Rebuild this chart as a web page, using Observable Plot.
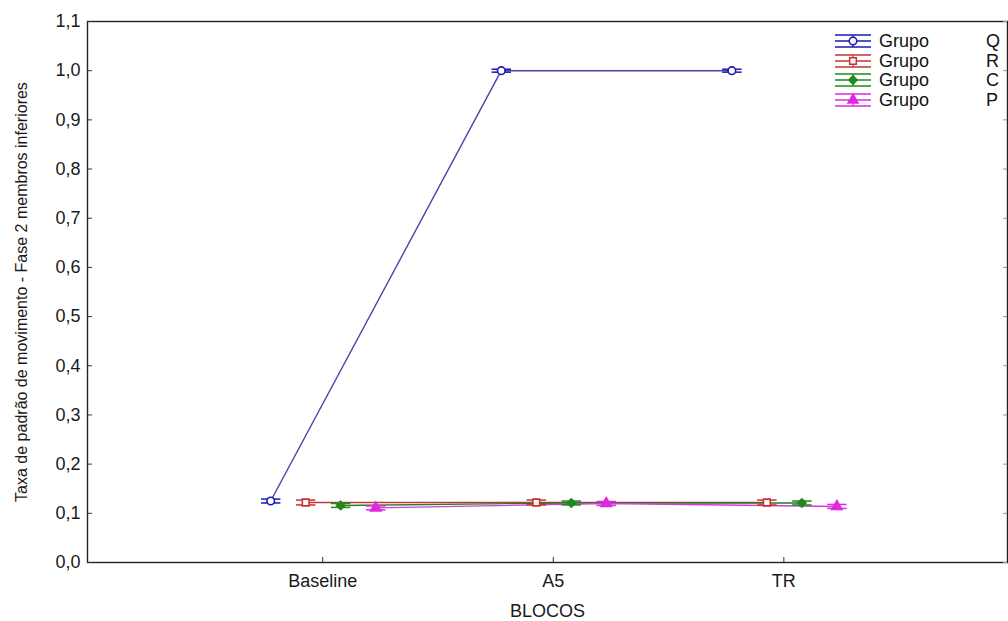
<!DOCTYPE html>
<html>
<head>
<meta charset="utf-8">
<script src="https://cdn.jsdelivr.net/npm/d3@7"></script>
<script src="https://cdn.jsdelivr.net/npm/@observablehq/plot@0.6"></script>
<style>
  html, body { margin: 0; padding: 0; background: #fff; }
  #wrap { position: relative; width: 1008px; height: 621px; font-family: "Liberation Sans", Arial, sans-serif; }
  #legend { position: absolute; left: 833px; top: 32px; font-size: 18px; color: #111; }
  .item { position: relative; height: 19.5px; line-height: 19px; }
  .item svg { position: absolute; left: 0; top: -1px; }
  .item .g { position: absolute; left: 46px; top: 0; }
  .item .l { position: absolute; left: 153px; top: 0; }
</style>
</head>
<body>
<div id="wrap"><div id="legend"></div></div>
<script>
// ---- data ----
const blocos = ["Baseline", "A5", "TR"];
const grupos = ["Q", "R", "C", "P"];
const valQ = [0.125, 1.0, 1.0];
const valR = [0.122, 0.122, 0.122];
const valC = [0.116, 0.121, 0.121];
const valP = [0.111, 0.12, 0.114];
const errQ = [0.004, 0.003, 0.003];
const errR = [0.005, 0.005, 0.005];
const errC = [0.004, 0.004, 0.004];
const errP = [0.004, 0.004, 0.004];
const yTicks = [0, 0.1, 0.2, 0.3, 0.4, 0.5, 0.6, 0.7, 0.8, 0.9, 1.0, 1.1];

const values = {Q: valQ, R: valR, C: valC, P: valP};
const errors = {Q: errQ, R: errR, C: errC, P: errP};
const colors = {Q: "#1a1ab4", R: "#c83232", C: "#1f8a1f", P: "#e028e0"};
const lineColors = {Q: "#4646a8", R: "#b83a3a", C: "#2a7a2a", P: "#d040d0"};
const symbols = {Q: "circle", R: "square", C: "diamond2", P: "triangle"};
const filled = {Q: false, R: false, C: true, P: true};
const offsets = {Q: -52, R: -17, C: 18, P: 53};

const W = 1008, H = 621;
const mL = 87, mR = 1, mT = 21, mB = 59;
const plotW = W - mL - mR, plotH = H - mT - mB;

// horizontal line symbol for error-bar caps
const hline = { draw(ctx, size) { const w = Math.sqrt(size) / 2; ctx.moveTo(-w, 0); ctx.lineTo(w, 0); } };

const rows = g => blocos.map((b, i) => ({
  grupo: g, bloco: b, x: i + 1, y: values[g][i],
  lo: values[g][i] - errors[g][i], hi: values[g][i] + errors[g][i]
}));

const marks = [];
for (const g of grupos) {
  const d = rows(g);
  marks.push(Plot.line(d, {x: "x", y: "y", stroke: lineColors[g], strokeWidth: 1.4, dx: offsets[g]}));
}
for (const g of grupos) {
  const d = rows(g);
  marks.push(Plot.ruleX(d, {x: "x", y1: "lo", y2: "hi", stroke: colors[g], strokeWidth: 1.3, dx: offsets[g]}));
  marks.push(Plot.dot(d, {x: "x", y: "lo", symbol: hline, r: 11, stroke: colors[g], strokeWidth: 1.5, dx: offsets[g]}));
  marks.push(Plot.dot(d, {x: "x", y: "hi", symbol: hline, r: 11, stroke: colors[g], strokeWidth: 1.5, dx: offsets[g]}));
  marks.push(Plot.dot(d, {x: "x", y: "y", symbol: symbols[g], r: 3.8,
    stroke: colors[g], fill: filled[g] ? colors[g] : "white", strokeWidth: 1.6, dx: offsets[g]}));
}

const fmt = v => v.toFixed(1).replace(".", ",");

const chart = Plot.plot({
  width: W, height: H,
  marginLeft: mL, marginRight: mR, marginTop: mT, marginBottom: mB,
  style: {fontFamily: "'Liberation Sans', Arial, sans-serif", fontSize: "14px", color: "#1a1a1a", background: "white"},
  x: {type: "linear", domain: [-0.02, 3.97]},
  y: {domain: [0, 1.1]},
  marks: [
    Plot.frame({stroke: "#222", strokeWidth: 1.4}),
    // inward ticks
    Plot.tickY(yTicks, {y: d => d, stroke: "#333", insetRight: plotW - 5}),
    Plot.tickY(yTicks, {y: d => d, stroke: "#999", insetLeft: plotW - 4}),
    Plot.tickX([1, 2, 3], {x: d => d, stroke: "#333", insetTop: plotH - 5}),
    Plot.axisY(yTicks, {tickSize: 0, tickPadding: 7, tickFormat: fmt, fontSize: 18,
      label: "Taxa de padrão de movimento - Fase 2 membros inferiores", labelAnchor: "center",
      labelArrow: "none", labelOffset: 72}),
    Plot.axisX([1, 2, 3], {tickSize: 0, tickPadding: 12, tickFormat: i => blocos[i - 1], fontSize: 18,
      label: "BLOCOS", labelAnchor: "center", labelArrow: "none", labelOffset: 54}),
    ...marks
  ]
});
// y-title slightly smaller than the tick labels
chart.querySelectorAll("g[aria-label='y-axis label'] text").forEach(t => t.setAttribute("font-size", 16));
document.getElementById("wrap").prepend(chart);

// legend
const legend = document.getElementById("legend");
const symMap = {circle: d3.symbolCircle, square: d3.symbolSquare, diamond2: d3.symbolDiamond2, triangle: d3.symbolTriangle};
for (const g of grupos) {
  const item = document.createElement("div");
  item.className = "item";
  const svg = d3.create("svg").attr("width", 40).attr("height", 22);
  const c = colors[g];
  const cy = 10;
  for (const dy of [-6, 0, 6]) {
    svg.append("line").attr("x1", 2).attr("x2", 38).attr("y1", cy + dy).attr("y2", cy + dy).attr("stroke", c).attr("stroke-width", 1.3);
  }
  svg.append("line").attr("x1", 20).attr("x2", 20).attr("y1", cy - 6).attr("y2", cy + 6).attr("stroke", c).attr("stroke-width", 1.3);
  svg.append("path").attr("transform", `translate(20,${cy})`)
    .attr("d", d3.symbol(symMap[symbols[g]], 44)())
    .attr("fill", filled[g] ? c : "white").attr("stroke", c).attr("stroke-width", 1.5);
  item.appendChild(svg.node());
  const t1 = document.createElement("span"); t1.className = "g"; t1.textContent = "Grupo";
  const t2 = document.createElement("span"); t2.className = "l"; t2.textContent = g;
  item.appendChild(t1); item.appendChild(t2);
  legend.appendChild(item);
}
</script>
</body>
</html>
